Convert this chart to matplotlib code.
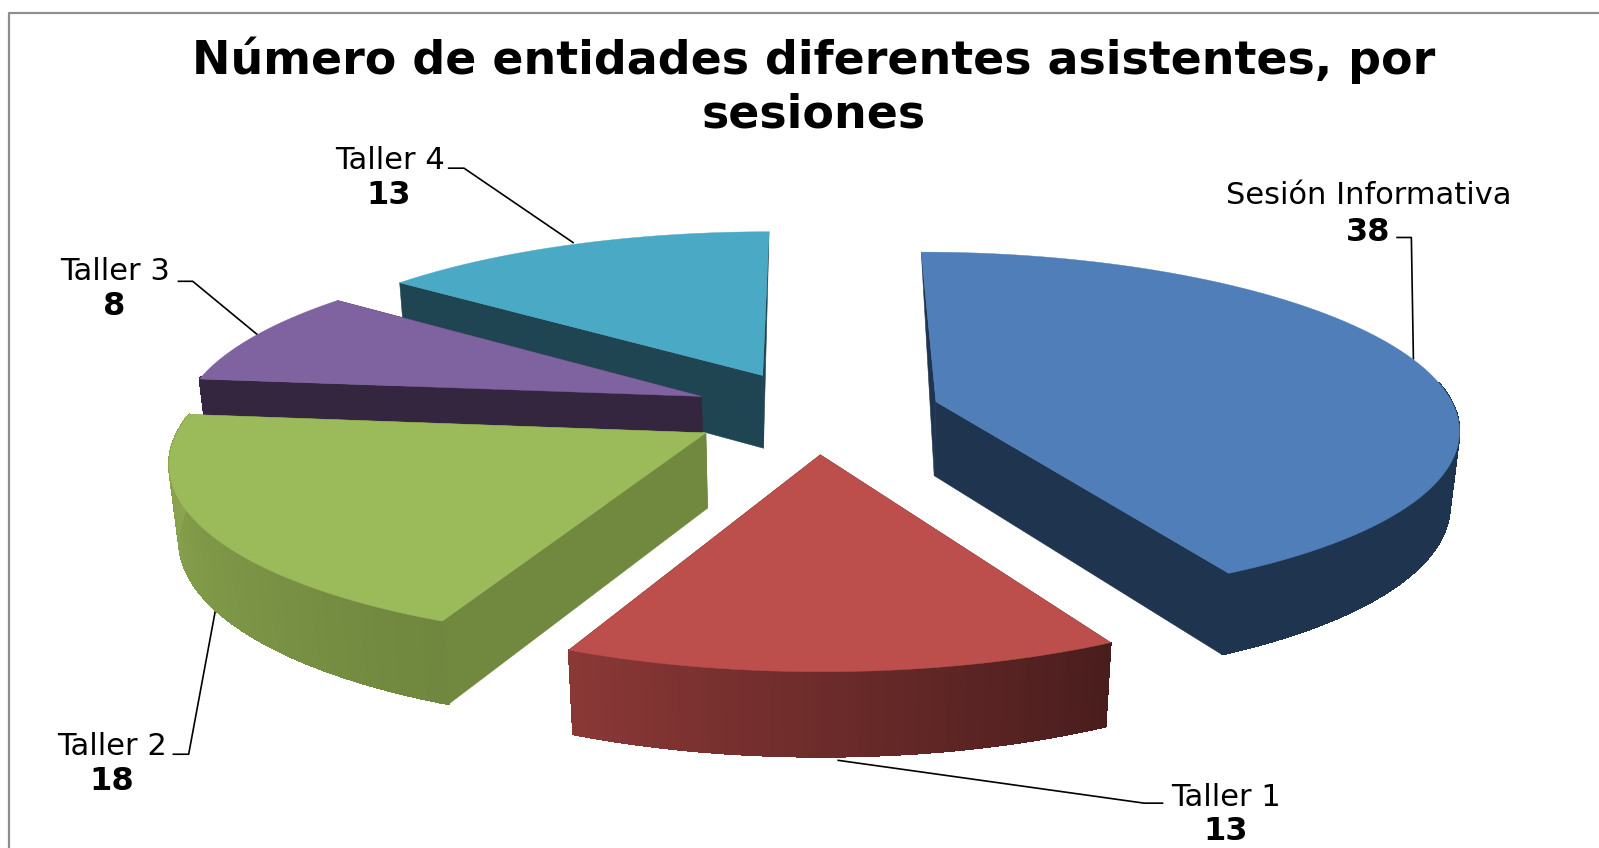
import numpy as np
import matplotlib
matplotlib.use("Agg")
import matplotlib.pyplot as plt
from matplotlib.collections import PolyCollection
from matplotlib.colors import to_rgb

# ---- data ----
categories = ["Sesión Informativa", "Taller 1", "Taller 2", "Taller 3", "Taller 4"]
values = [38, 13, 18, 8, 13]
title_text = "Número de entidades diferentes asistentes, por\nsesiones"

# ---- style ----
top_colors = ["#4F7EB8", "#BC4F4C", "#9BBA59", "#7F63A0", "#4AA9C4"]
cut_colors = ["#1F344F", "#5A2523", "#71893F", "#352640", "#1F4452"]
# outer wall colour at slice start angle and end angle
wall_start = ["#1F344F", "#4A1D1D", "#6F873E", "#352640", "#1F4452"]
wall_end = ["#1F344F", "#8A3836", "#8DA851", "#352640", "#1F4452"]
draw_order = [4, 3, 2, 0, 1]

label_pos = [(1342, 192), (1202, 782), (110, 732), (113, 266), (382, 157)]
value_pos = [(1342, 228), (1202, 816), (110, 767), (112, 301), (381, 192)]
leaders = [
    [(1370, 233), (1384, 233), (1386, 352)],
    [(1140, 788), (1122, 788), (822, 746)],
    [(170, 740), (185, 740), (211, 600)],
    [(175, 276), (189, 276), (252, 328)],
    [(440, 165), (455, 165), (562, 238)],
]

# projection parameters (in the 1568x832 view)
CX, CY = 800.0, 404.0
A, B, K = 510.0, 170.0, 0.14
DEPTH, ZK = 74.0, 0.015
EXPLODE = 0.24


def project(X, Y, z):
    p = 1.0 / (1.0 + K * Y + ZK * z)
    return np.column_stack([CX + A * X * p, CY - B * Y * p + DEPTH * z * p])


fig = plt.figure(figsize=(15.99, 8.48), dpi=100, facecolor="white")
ax = fig.add_axes([0, 0, 1, 1])
ax.set_xlim(0, 1568)
ax.set_ylim(832, 0)
ax.axis("off")

# chart frame: only the top and left sides are in view
ax.plot([8.5, 8.5, 1568], [832, 12.5, 12.5], color="#8E8E8E", lw=1.6, zorder=1)

angles = np.cumsum([0] + values) / sum(values) * 2 * np.pi


def lerp(c0, c1, t):
    a, b = np.array(to_rgb(c0)), np.array(to_rgb(c1))
    return tuple(a + (b - a) * t)


def cut_face(apex_t, apex_b, edge_t, edge_b, angle):
    # a cut at the very back of the pie shows no vertical edge
    if abs(np.sin(angle)) < 1e-6 and np.cos(angle) > 0:
        return np.vstack([apex_t, edge_t, apex_b])
    return np.vstack([apex_t, edge_t, edge_b, apex_b])


for rank, i in enumerate(draw_order):
    a0, a1 = angles[i], angles[i + 1]
    mid = (a0 + a1) / 2
    ex, ey = EXPLODE * np.sin(mid), EXPLODE * np.cos(mid)
    th = np.linspace(a0, a1, 90)
    X = ex + np.sin(th)
    Y = ey + np.cos(th)
    top = project(X, Y, 0.0)
    bot = project(X, Y, 1.0)
    apex_t = project(np.array([ex]), np.array([ey]), 0.0)
    apex_b = project(np.array([ex]), np.array([ey]), 1.0)
    z = 10 + rank
    # cut faces
    faces = [
        cut_face(apex_t, apex_b, top[0], bot[0], a0),
        cut_face(apex_t, apex_b, top[-1], bot[-1], a1),
    ]
    ax.add_collection(PolyCollection(faces, facecolors=cut_colors[i],
                                     edgecolors=cut_colors[i], linewidths=0.4, zorder=z))
    # outer wall: visible only where it lies in front of the slice's own top
    front = np.cos(th) < 0.12
    if front.any():
        t_f, b_f = top[front], bot[front]
        idx = np.flatnonzero(front)
        quads = [np.vstack([t_f[j], t_f[j + 1], b_f[j + 1], b_f[j]]) for j in range(len(idx) - 1)]
        cols = [lerp(wall_start[i], wall_end[i], idx[j] / (len(th) - 2)) for j in range(len(idx) - 1)]
        ax.add_collection(PolyCollection(quads, facecolors=cols, edgecolors=cols,
                                         linewidths=0.7, antialiaseds=False, zorder=z + 0.1))
    # top face
    ax.fill(np.r_[apex_t[:, 0], top[:, 0]], np.r_[apex_t[:, 1], top[:, 1]],
            color=top_colors[i], lw=0.3, zorder=z + 0.2)

family = "DejaVu Sans"
ax.text(798, 85, title_text, ha="center", va="center", family=family, weight="bold",
        fontsize=33, linespacing=1.25, color="black", zorder=30)

for i, name in enumerate(categories):
    ax.text(*label_pos[i], name, ha="center", va="center", family=family,
            fontsize=22, color="black", zorder=30)
    ax.text(*value_pos[i], str(values[i]), ha="center", va="center", family=family,
            weight="bold", fontsize=23, color="black", zorder=30)
    xs, ys = zip(*leaders[i])
    ax.plot(xs, ys, color="black", lw=1.2, zorder=5)

fig.savefig("out.png", dpi=100, facecolor="white")
